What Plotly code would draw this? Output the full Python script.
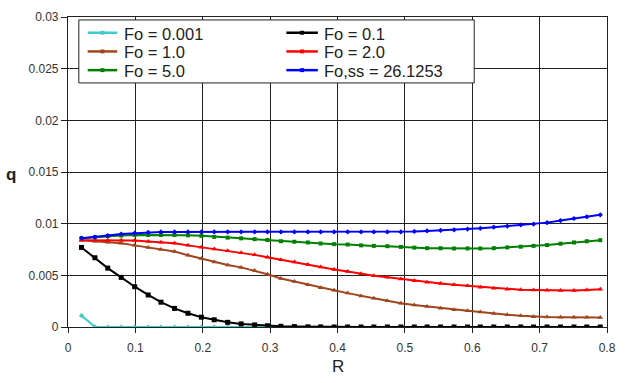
import plotly.graph_objects as go

R = [0.020, 0.040, 0.059, 0.079, 0.099, 0.119, 0.138, 0.158, 0.178, 0.198,
     0.217, 0.237, 0.257, 0.277, 0.296, 0.316, 0.336, 0.356, 0.375, 0.395,
     0.415, 0.435, 0.454, 0.474, 0.494, 0.514, 0.533, 0.553, 0.573, 0.593,
     0.612, 0.632, 0.652, 0.672, 0.691, 0.711, 0.731, 0.751, 0.770, 0.790]

q_fo0001 = [0.0011, 0.00002] + [0.0] * 38

q_fo01 = [0.0077, 0.0067, 0.0057, 0.0048, 0.0039, 0.0031, 0.0024, 0.0018, 0.00133, 0.00095,
          0.0007, 0.00045, 0.0003, 0.0002, 0.00012, 0.00007, 0.00004, 0.00002, 0.00001] + [0.0] * 21

q_fo1 = [0.0084, 0.0083, 0.0082, 0.0081, 0.0079, 0.0077, 0.0075, 0.0073, 0.00695, 0.00662,
         0.0063, 0.0060, 0.00577, 0.00546, 0.0051, 0.0047, 0.0044, 0.0041, 0.0038, 0.00355,
         0.00328, 0.0030, 0.00278, 0.00255, 0.0023, 0.00213, 0.00198, 0.00182, 0.00168, 0.00157,
         0.00145, 0.0013, 0.00118, 0.00108, 0.0010, 0.00097, 0.00095, 0.00094, 0.00094, 0.00093]

q_fo2 = [0.0084, 0.0084, 0.0084, 0.0084, 0.00838, 0.00827, 0.0082, 0.0081, 0.0079, 0.00772,
         0.00755, 0.00738, 0.00718, 0.00698, 0.00675, 0.0065, 0.0063, 0.00605, 0.0058, 0.00557,
         0.00538, 0.00515, 0.00497, 0.00482, 0.00465, 0.00447, 0.00432, 0.0042, 0.00408, 0.00398,
         0.00385, 0.00375, 0.00366, 0.0036, 0.00358, 0.00355, 0.00353, 0.00353, 0.00358, 0.00366]

q_fo5 = [0.0086, 0.0087, 0.0088, 0.00885, 0.0089, 0.0089, 0.0089, 0.0089, 0.00887, 0.00882,
         0.00872, 0.00865, 0.00858, 0.0085, 0.00842, 0.0083, 0.00825, 0.00818, 0.00808, 0.00802,
         0.00798, 0.0079, 0.00785, 0.00782, 0.00775, 0.00768, 0.00763, 0.00762, 0.0076, 0.0076,
         0.0076, 0.00763, 0.0077, 0.00777, 0.00785, 0.00793, 0.00806, 0.00818, 0.0083, 0.0084]

q_foss = [0.0086, 0.0087, 0.00885, 0.0090, 0.00908, 0.00915, 0.0092, 0.0092, 0.0092, 0.0092,
          0.0092, 0.0092, 0.0092, 0.0092, 0.0092, 0.0092, 0.0092, 0.0092, 0.0092, 0.0092,
          0.0092, 0.0092, 0.0092, 0.0092, 0.0092, 0.00925, 0.0093, 0.00935, 0.0094, 0.00948,
          0.00955, 0.00966, 0.00976, 0.00988, 0.00996, 0.0101, 0.0103, 0.0105, 0.01066, 0.01086]

x_ticks = [0, 0.1, 0.2, 0.3, 0.4, 0.5, 0.6, 0.7, 0.8]
x_tick_labels = ["0", "0.1", "0.2", "0.3", "0.4", "0.5", "0.6", "0.7", "0.8"]
y_ticks = [0, 0.005, 0.01, 0.015, 0.02, 0.025, 0.03]
y_tick_labels = ["0", "0.005", "0.01", "0.015", "0.02", "0.025", "0.03"]

series = [
    ("Fo = 0.001", q_fo0001, "#40CCCC", "diamond", 4),
    ("Fo = 0.1", q_fo01, "#000000", "square", 5),
    ("Fo = 1.0", q_fo1, "#A0461E", "triangle-up", 5),
    ("Fo = 2.0", q_fo2, "#FF0000", "triangle-up", 5),
    ("Fo = 5.0", q_fo5, "#008000", "square", 4),
    ("Fo,ss = 26.1253", q_foss, "#0000FF", "diamond", 4),
]

font = "Arial, Liberation Sans, sans-serif"
ink = "#222222"

# plot-area geometry in pixels (for the hand-built legend)
W, H = 626, 383
ML, MR, MT, MB = 68, 10, 12, 56
PW, PH = W - ML - MR, H - MT - MB


def px(x):
    return (x - ML) / PW


def py(y):
    return (H - MB - y) / PH


fig = go.Figure()
for name, y, color, sym, sz in series:
    fig.add_trace(go.Scatter(
        x=R, y=y, name=name, mode="lines+markers",
        line=dict(color=color, width=2),
        marker=dict(symbol=sym, size=sz, color=color),
        showlegend=False,
    ))

shapes = [dict(type="rect", xref="paper", yref="paper",
               x0=px(79), x1=px(481), y0=py(79), y1=py(15),
               fillcolor="white", line=dict(color=ink, width=1), layer="above")]
annotations = []
row_y = [28, 47, 66]
col_line = [(88, 118, 124), (290, 322, 327)]
for i, (name, _, color, _, _) in enumerate(series):
    r, c = divmod(i, 2)
    yy = row_y[r]
    lx0, lx1, tx = col_line[c]
    shapes.append(dict(type="line", xref="paper", yref="paper",
                       x0=px(lx0), x1=px(lx1), y0=py(yy), y1=py(yy),
                       line=dict(color=color, width=2.5), layer="above"))
    cx = (lx0 + lx1) / 2
    shapes.append(dict(type="rect", xref="paper", yref="paper",
                       x0=px(cx - 2), x1=px(cx + 2), y0=py(yy + 2), y1=py(yy - 2),
                       fillcolor=color, line=dict(width=0), layer="above"))
    annotations.append(dict(text=name, xref="paper", yref="paper",
                            x=px(tx), y=py(yy + 1), xanchor="left", yanchor="middle",
                            borderpad=0, showarrow=False,
                            font=dict(family=font, size=16.5, color=ink)))

annotations.append(dict(
    text="<b>q</b>", x=0, xref="paper", xanchor="right", xshift=-50,
    y=0.0148, yref="y", yanchor="middle", showarrow=False,
    font=dict(family=font, size=17, color=ink)))
annotations.append(dict(
    text="R", x=0.5, xref="paper", y=py(367), yref="paper",
    xanchor="center", yanchor="middle", showarrow=False, borderpad=0,
    font=dict(family=font, size=17, color=ink)))

fig.update_layout(
    width=W, height=H,
    margin=dict(l=ML, r=MR, t=MT, b=MB),
    paper_bgcolor="white", plot_bgcolor="white",
    font=dict(family=font, size=12, color=ink),
    showlegend=False,
    shapes=shapes,
    annotations=annotations,
    xaxis=dict(
        range=[0, 0.8], tickvals=x_ticks, ticktext=x_tick_labels,
        showgrid=True, gridcolor=ink, gridwidth=1.2,
        showline=True, linecolor=ink, linewidth=1.2, mirror=True,
        ticks="outside", ticklen=5, tickcolor=ink, ticklabelstandoff=4,
        zeroline=False, tickfont=dict(size=12, color="#333333"),
    ),
    yaxis=dict(
        range=[0, 0.03], tickvals=y_ticks, ticktext=y_tick_labels,
        showgrid=True, gridcolor=ink, gridwidth=1.2,
        showline=True, linecolor=ink, linewidth=1.2, mirror=True,
        ticks="outside", ticklen=6, tickcolor=ink,
        zeroline=False, tickfont=dict(size=12, color="#333333"),
    ),
)

fig.write_html("out.html")
